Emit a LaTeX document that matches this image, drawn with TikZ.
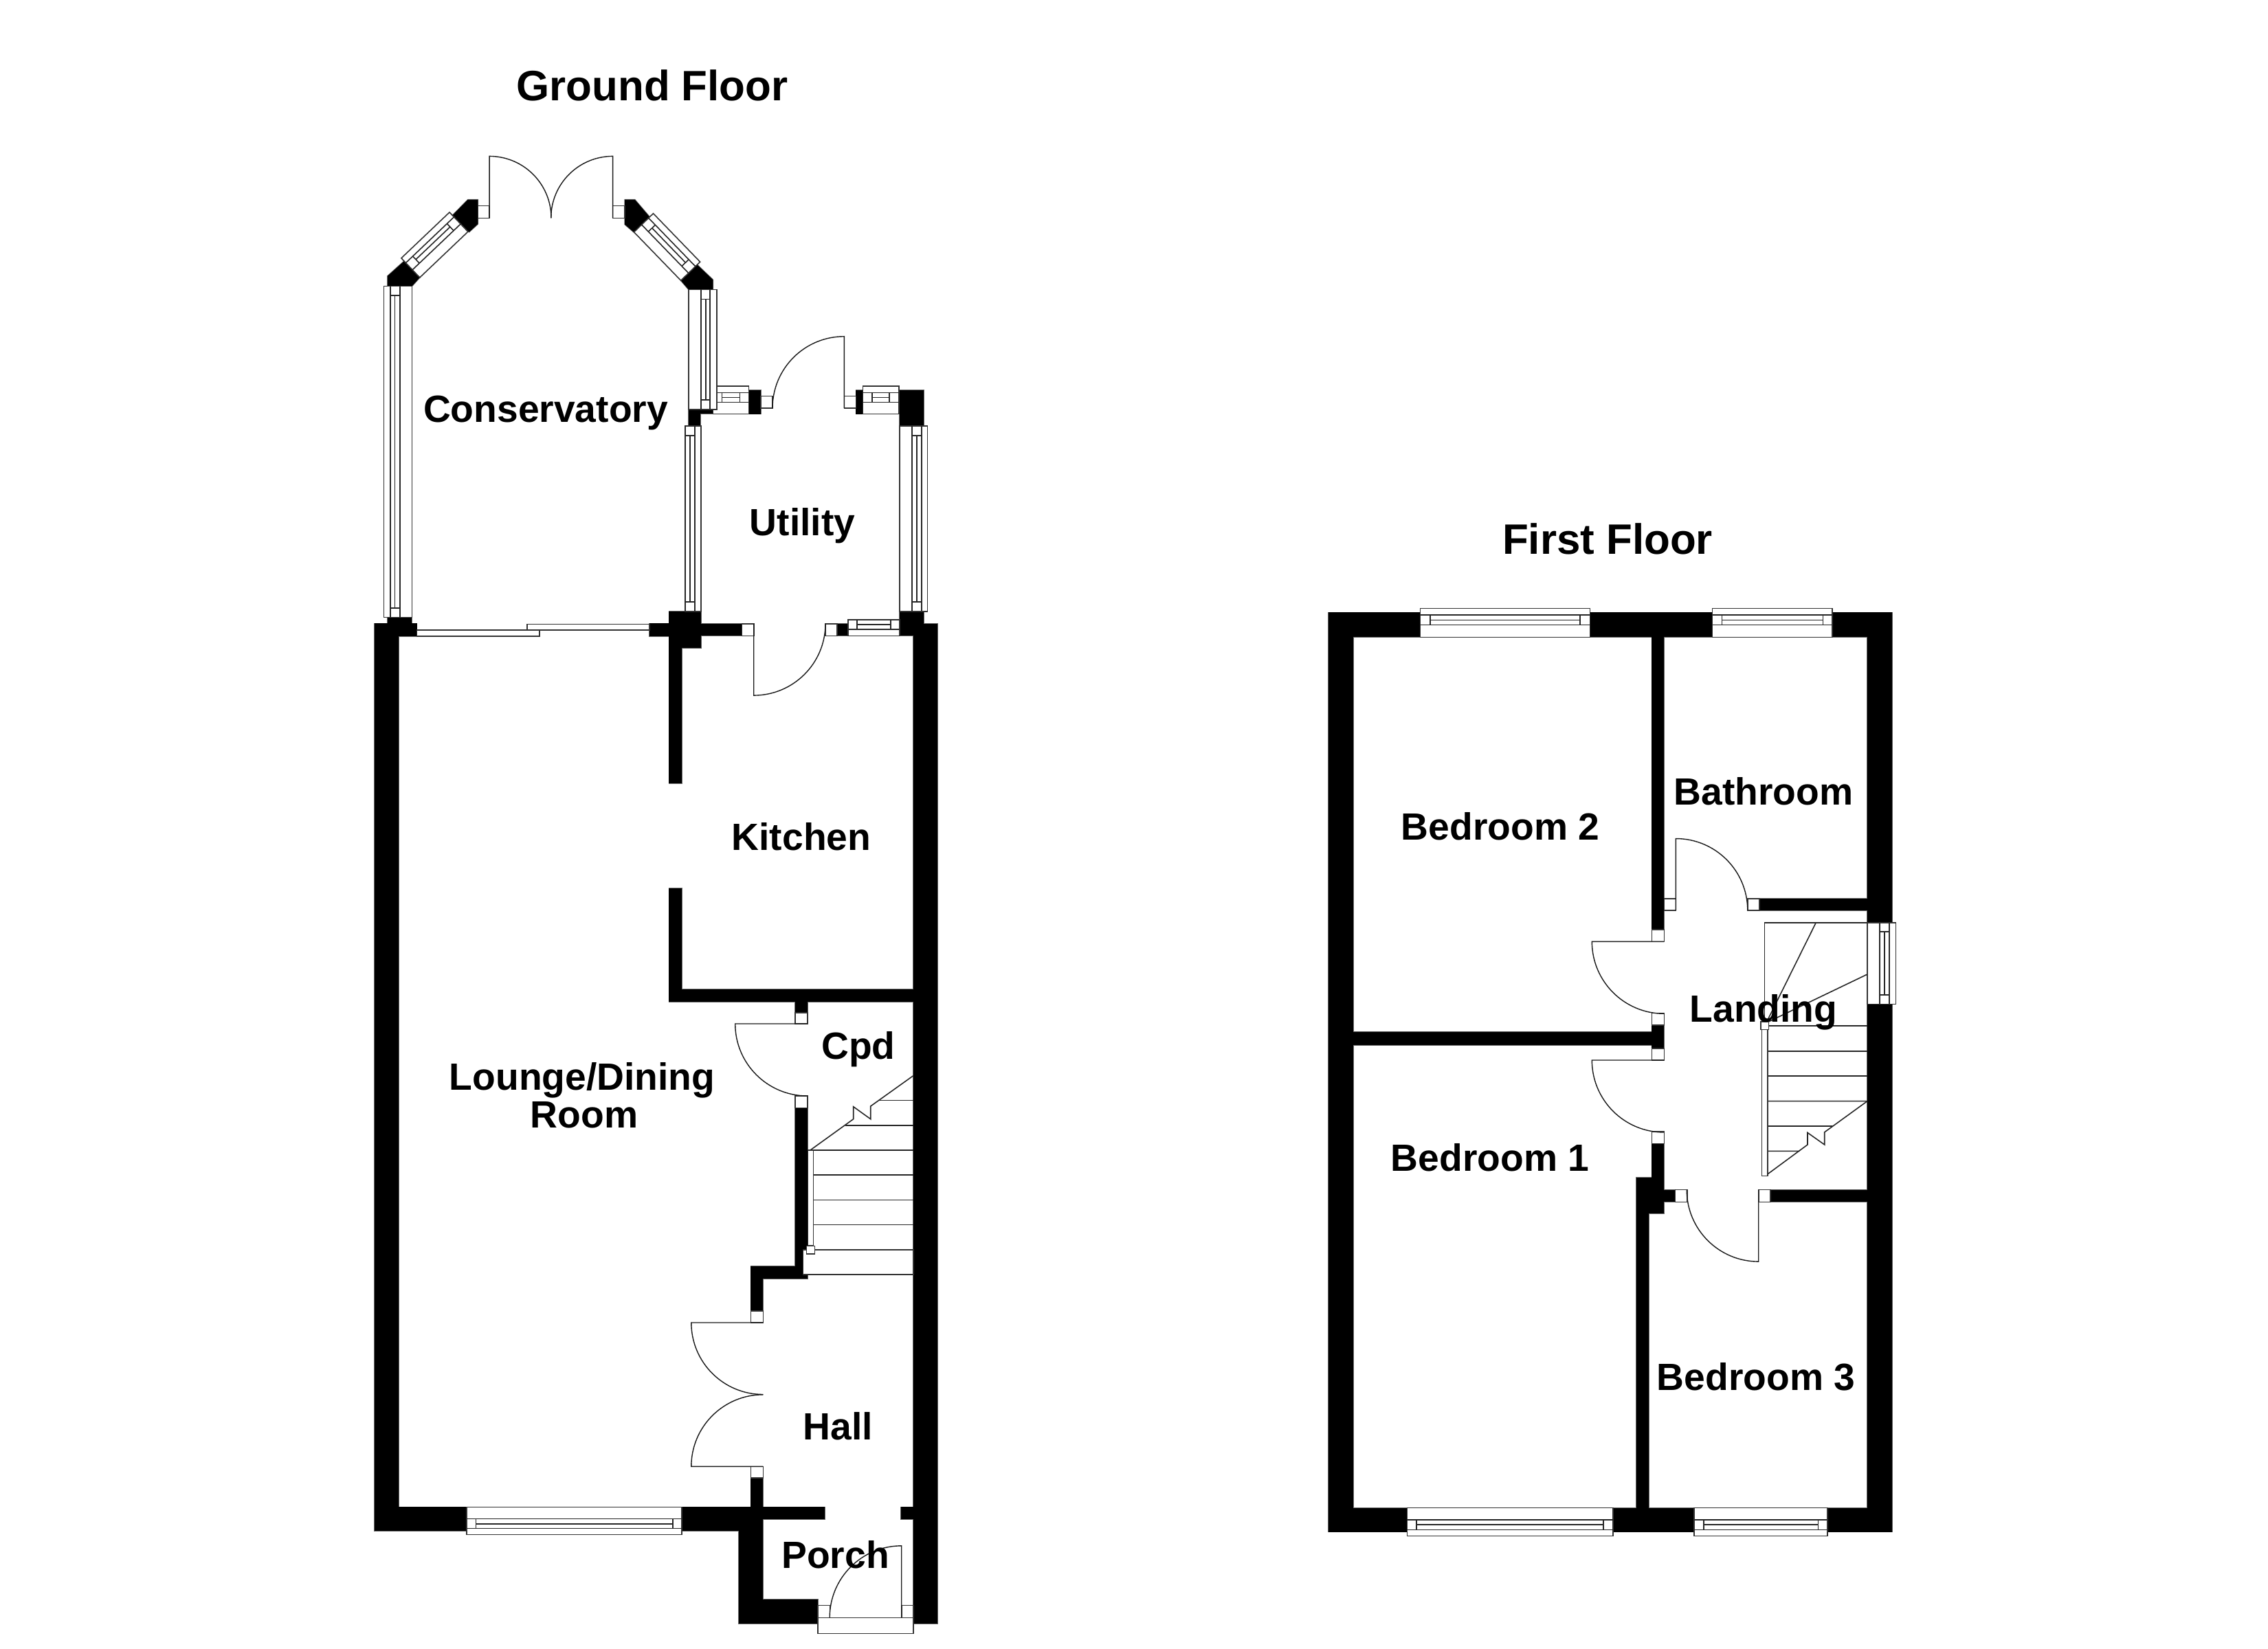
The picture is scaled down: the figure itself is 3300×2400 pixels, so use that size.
\documentclass[tikz,border=0pt]{standalone}
\usepackage{fontspec}
\setmainfont{Liberation Sans}
\tikzset{
  px/.style={x=0.01cm,y=-0.01cm},
  wall edge/.style={draw=black!60,line width=0.45pt},
  wall fill/.style={fill=black},
  thin line/.style={draw=black!85,line width=0.45pt},
  frame box/.style={fill=white,draw=black!80,line width=0.45pt},
  swing/.style={draw=black!90,line width=0.4pt},
  room/.style={font=\fontsize{15.7}{15.7}\selectfont\bfseries,inner sep=0pt,text=black,anchor=base},
  floor title/.style={font=\fontsize{17.6}{17.6}\selectfont\bfseries,inner sep=0pt,text=black,anchor=base},
}
\newcommand{\wallr}[2][]{\wallrect{#2}}
\def\wallrect#1{\wallparse#1;}
\def\wallparse#1,#2,#3,#4;{\path[wallmode] (#1,#2) rectangle (#3,#4);}
\newcommand{\framer}[4]{\path[frame box] (#1,#2) rectangle (#3,#4);}
% window: pose then body
\newcommand{\winpose}[6]{\def\wx{#1}\def\wy{#2}\def\wux{#3}\def\wuy{#4}\def\wnx{#5}\def\wny{#6}}
\newcommand{\winbody}[6]{%
  \begin{scope}[shift={(\wx,\wy)},x={({\wux*0.01cm},{-\wuy*0.01cm})},y={({\wnx*0.01cm},{-\wny*0.01cm})}]
    \path[frame box] (0,0) -- (#1,0) -- (#1,#2) -- (0,#2) -- cycle;
    \draw[thin line] (0,#3) -- (#1,#3) (0,#5) -- (#1,#5);
    \draw[thin line] (#6,#3) -- (#6,#5);
    \draw[thin line] ({#1-#6},#3) -- ({#1-#6},#5);
    \draw[thin line] (#6,#4) -- ({#1-#6},#4);
  \end{scope}}
% door: hinge cx,cy radius r, leaf direction (ax,ay), arc to direction (bx,by)
\newcommand{\doorswing}[7]{%
  \draw[swing] (#1,#2) -- ({#1+#3*#4},{#2+#3*#5})
    .. controls ({#1+#3*#4+0.5523*#3*#6},{#2+#3*#5+0.5523*#3*#7})
    and ({#1+#3*#6+0.5523*#3*#4},{#2+#3*#7+0.5523*#3*#5})
    .. ({#1+#3*#6},{#2+#3*#7});}
% all solid walls of both floors, drawn with whichever wallmode is in force
\newcommand{\allwalls}{%
\wallr{544.7,907.3,606.7,925.7}
\wallr{544.7,907.3,580.3,2228.3}
\wallr{564,898.3,599.3,907.3}
\wallr{544.7,2193.3,1075,2228.3}
\wallr{1075,2193.3,1110.3,2363.3}
\wallr{1075,2327.7,1190,2363.3}
\wallr{1092.3,2150.7,1110.3,2211}
\wallr{1110.3,2193.3,1200,2211}
\wallr{1311,2193.3,1328.7,2211}
\wallr{1328.7,907.8,1364.3,2363.3}
\wallr{1308.7,890,1344.3,925.4}
\wallr{1308.7,567.5,1344.3,620}
\wallr{973.3,890,1019.7,943}
\wallr{973.3,943,992,1140.3}
\wallr{973.3,1292.7,992,1458.3}
\wallr{973.3,1440,1328.7,1458.3}
\wallr{944.7,907.3,973.3,925.7}
\wallr{1019.7,907.8,1079.3,925.4}
\wallr{1218,907.8,1233.7,925.4}
\wallr{1157,1458,1174.7,1473.7}
\wallr{1157,1612.3,1174.7,1861}
\wallr{1092.3,1842.7,1174.7,1861}
\wallr{1092.3,1842.7,1110.3,1908}
\wallr{1001.7,596,1019.3,620}
\wallr{1019,596,1037.3,602.4}
\wallr{1089.3,567.5,1106.7,602.7}
\wallr{1245.3,567.5,1255.3,602.7}
\path[wallmode] (564,416.7) -- (564,401.7) -- (588.1,380) -- (611.8,402.7) -- (599.2,416.7) -- cycle;
\path[wallmode] (695.3,290.7) -- (680.7,290.7) -- (658.5,313.3) -- (682.6,337.7) -- (695.3,326) -- cycle;
\path[wallmode] (909.2,290.7) -- (923.8,290.7) -- (946,316.7) -- (922.6,338.3) -- (909.2,326.7) -- cycle;
\path[wallmode] (990.7,408.3) -- (1014.8,385.7) -- (1037.4,407.3) -- (1037.4,421.7) -- (1002.2,421.7) -- cycle;
\wallr{1933.2,891.3,2752.7,927}
\wallr{1933.2,891.3,1968.8,2229.5}
\wallr{2717,891.3,2752.7,2229.5}
\wallr{1933.2,2194.5,2752.7,2229.5}
\wallr{2403.3,927,2421.3,1353}
\wallr{2403.3,1492,2421.3,1525.7}
\wallr{1968.8,1501.6,2403.3,1520.7}
\wallr{2403.3,1664.6,2421.3,1766.4}
\wallr{2381,1714,2421.3,1766.4}
\wallr{2381,1766,2399.3,2194.5}
\wallr{2421.3,1731.6,2437.3,1749.2}
\wallr{2576,1731.6,2717,1749.3}
\wallr{2560,1308,2717,1325}
}
\begin{document}
\begin{tikzpicture}[px]
\useasboundingbox (0,0) rectangle (3300,2400);
\fill[white] (0,0) rectangle (3300,2400);

%% ---------- walls: edges first, black fill over them
\tikzset{wallmode/.style={wall edge}}\allwalls
\tikzset{wallmode/.style={wall fill}}\allwalls

%% ---------- GROUND FLOOR windows
\winpose{679}{2233.3}{1}{0}{0}{-1}\winbody{313}{40}{9}{15.6}{23}{13.3}
\winpose{1037.3}{562}{1}{0}{0}{1}\winbody{52}{40.4}{9.4}{16.6}{23.5}{13}
\winpose{1255.3}{562}{1}{0}{0}{1}\winbody{52.4}{40.4}{9.4}{16.6}{23.5}{13.5}
\winpose{1233.7}{902}{1}{0}{0}{1}\winbody{75}{23.4}{0.5}{7}{14}{13}
\winpose{558.3}{416.7}{0}{1}{1}{0}\winbody{481.6}{41}{9.5}{16.4}{23.7}{13.5}
\winpose{1042.8}{421.7}{0}{1}{-1}{0}\winbody{174.3}{40.8}{9.6}{15.8}{23}{14}
\winpose{996.7}{620}{0}{1}{1}{0}\winbody{270}{23}{0}{7}{14}{14}
\winpose{1349.3}{620}{0}{1}{-1}{0}\winbody{270}{40.6}{8.6}{15.6}{22.6}{14}
\winpose{583.9}{375.7}{.7244}{-.6893}{.6893}{.7244}\winbody{96.8}{39}{9.5}{16}{23.5}{14}
\winpose{950.5}{310.7}{.6955}{.7186}{-.7186}{.6955}\winbody{98}{39}{9.5}{16}{23.5}{14}
% patio door panels
\framer{767}{908.3}{944.7}{916.7}
\framer{606.7}{916.7}{784.7}{925.7}

%% ---------- GROUND FLOOR door frames and swings
\framer{1079.3}{907.8}{1096.7}{925.4}
\framer{1201}{907.8}{1218}{925.4}
\framer{1106.7}{576.7}{1124}{594}
\framer{1228.3}{576.7}{1245.3}{594}
\framer{695.3}{299.3}{712.1}{317.3}
\framer{891.6}{299.3}{909.2}{317.3}
\framer{1157}{1473.7}{1174.7}{1490}
\framer{1157}{1595}{1174.7}{1612.3}
\framer{1092.3}{1908}{1110.3}{1925}
\framer{1092.3}{2134.3}{1110.3}{2150.7}
\framer{1190}{2336.3}{1207.3}{2354.3}
\framer{1311.7}{2336.3}{1328.7}{2354.3}
\framer{1190}{2354.3}{1328.7}{2377.3}
\doorswing{1096.7}{907.8}{104.3}{0}{1}{1}{0}
\doorswing{1228.3}{594}{104.3}{0}{-1}{-1}{0}
\doorswing{712.1}{317.3}{89.9}{0}{-1}{1}{0}
\doorswing{891.6}{317.3}{89.9}{0}{-1}{-1}{0}
\doorswing{1174.7}{1490}{105}{-1}{0}{0}{1}
\doorswing{1110.3}{1925}{104.5}{-1}{0}{0}{1}
\doorswing{1110.3}{2134.3}{104.5}{-1}{0}{0}{-1}
\doorswing{1311.7}{2354.3}{104.5}{0}{-1}{-1}{0}

%% ---------- GROUND FLOOR stairs
\framer{1168.3}{1819}{1328.7}{1855}
\draw[thin line] (1279.3,1601.3) -- (1328.7,1601.3)
  (1230,1637.7) -- (1328.7,1637.7)
  (1175.3,1673.7) -- (1328.7,1673.7)
  (1183.3,1710) -- (1328.7,1710)
  (1183.3,1746.3) -- (1328.7,1746.3)
  (1183.3,1782.3) -- (1328.7,1782.3);
\framer{1175.3}{1673.7}{1183.3}{1813}
\framer{1173.3}{1813.3}{1185.3}{1824.7}
\draw[thin line] (1179.3,1673.7) -- (1241.7,1628.7) -- (1241.7,1610.7) -- (1266.7,1628.7) -- (1266.7,1610) -- (1328.7,1565.7);

%% ---------- FIRST FLOOR windows
\winpose{2066.5}{885.3}{1}{0}{0}{1}\winbody{246.8}{42}{9.7}{17}{24}{14.2}
\winpose{2491.6}{885.3}{1}{0}{0}{1}\winbody{174.4}{42}{9.7}{17}{24}{13.7}
\winpose{2047.3}{2235.3}{1}{0}{0}{-1}\winbody{299.5}{41}{9}{16.3}{23.3}{13.7}
\winpose{2465.2}{2235.3}{1}{0}{0}{-1}\winbody{193.9}{41}{9}{16.3}{23.3}{13.7}
\winpose{2758.3}{1342.7}{0}{1}{-1}{0}\winbody{118.7}{41.3}{9.6}{16.6}{23.6}{13.5}

%% ---------- FIRST FLOOR door frames and swings
\framer{2403.3}{1353}{2421.3}{1370.3}
\framer{2403.3}{1474.4}{2421.3}{1492}
\framer{2403.3}{1525.7}{2421.3}{1543}
\framer{2403.3}{1647}{2421.3}{1664.6}
\framer{2421.3}{1308}{2438.3}{1325}
\framer{2542.7}{1308}{2560}{1325}
\framer{2437.3}{1731.6}{2454.7}{1749.3}
\framer{2558.7}{1731.6}{2576}{1749.3}
\doorswing{2421.3}{1370.3}{105}{-1}{0}{0}{1}
\doorswing{2421.3}{1543}{105}{-1}{0}{0}{1}
\doorswing{2438.3}{1325}{104.5}{0}{-1}{1}{0}
\doorswing{2558.7}{1731.6}{104.5}{0}{1}{-1}{0}

%% ---------- FIRST FLOOR stairs
\draw[thin line] (2567.3,1487) -- (2567.3,1342.7) -- (2717,1342.7);
\draw[thin line] (2571.7,1485) -- (2642.3,1342.7)
  (2573.3,1487) -- (2717,1418)
  (2573.3,1493) -- (2717,1493)
  (2571.7,1530) -- (2717,1530)
  (2571.7,1566) -- (2717,1566)
  (2571.7,1602.6) -- (2717,1602.6)
  (2571.7,1639) -- (2666.7,1639)
  (2571.7,1675.3) -- (2618.3,1675.3);
\framer{2563.3}{1498.5}{2571.7}{1711.3}
\framer{2561.7}{1487}{2573.3}{1498.5}
\draw[thin line] (2571.7,1709) -- (2630,1666) -- (2630,1648.5) -- (2654.7,1666) -- (2654.7,1647.8) -- (2717,1602.6);

%% ---------- LABELS
\node[floor title] (gftitle) at (949,147) {Ground Floor};
\node[floor title] (fftitle) at (2339,806) {First Floor};
\node[room] (cons) at (794,614) {Conservatory};
\node[room] (util) at (1167.5,779.6) {Utility};
\node[room] (kit) at (1166,1237) {Kitchen};
\node[room] (lng1) at (847,1586) {Lounge/Dining};
\node[room] (lng2) at (850,1641) {Room};
\node[room] (cpd) at (1249,1541.7) {Cpd};
\node[room] (hall) at (1219.5,2095.7) {Hall};
\node[room] (porch) at (1215.5,2282.7) {Porch};
\node[room] (bed2) at (2183,1222) {Bedroom 2};
\node[room] (bath) at (2566,1171) {Bathroom};
\node[room] (land) at (2566,1487) {Landing};
\node[room] (bed1) at (2168,1704) {Bedroom 1};
\node[room] (bed3) at (2555,2023) {Bedroom 3};
\end{tikzpicture}
\end{document}
